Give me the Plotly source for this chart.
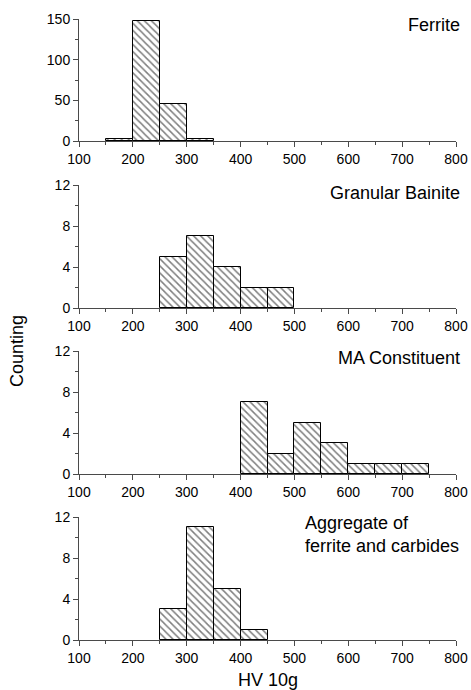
import plotly.graph_objects as go

BIN_WIDTH = 50

ferrite_bins = [150, 200, 250, 300]
ferrite_counts = [3, 148, 46, 2]

bainite_bins = [250, 300, 350, 400, 450]
bainite_counts = [5, 7, 4, 2, 2]

ma_bins = [400, 450, 500, 550, 600, 650, 700]
ma_counts = [7, 2, 5, 3, 1, 1, 1]

aggregate_bins = [250, 300, 350, 400]
aggregate_counts = [3, 11, 5, 1]

x_ticks = [100, 200, 300, 400, 500, 600, 700, 800]
panel_labels = ["Ferrite", "Granular Bainite", "MA Constituent",
                "Aggregate of<br>ferrite and carbides"]
x_title = "HV 10g"
y_title = "Counting"

FONT = "Liberation Sans, Arial, sans-serif"
W, H = 471, 690
ML, MR, MT, MB = 79, 15, 19, 50
plot_h = H - MT - MB
plot_w = W - ML - MR


def py(px):
    return (H - MB - px) / plot_h


def pxx(px):
    return (px - ML) / plot_w


domains = [(py(141), py(19)), (py(308), py(185)), (py(474), py(351)), (py(640), py(517))]
series = [(ferrite_bins, ferrite_counts), (bainite_bins, bainite_counts),
          (ma_bins, ma_counts), (aggregate_bins, aggregate_counts)]
y_ranges = [[0, 150], [0, 12], [0, 12], [0, 12]]
y_dticks = [50, 4, 4, 4]

fig = go.Figure()
axis_color = "#4a4a4a"
for i, ((bins, counts), dom, yr, dt) in enumerate(zip(series, domains, y_ranges, y_dticks)):
    n = "" if i == 0 else str(i + 1)
    fig.add_trace(go.Bar(
        x=bins, y=counts, width=BIN_WIDTH, offset=0,
        xaxis="x" + n, yaxis="y" + n,
        marker=dict(color="white",
                    line=dict(color="black", width=1),
                    pattern=dict(shape="\\", fgcolor="#000000", bgcolor="white",
                                 size=5, solidity=0.3, fillmode="overlay")),
        showlegend=False,
    ))
    fig.layout["xaxis" + n] = dict(
        domain=[0, 1], anchor="y" + n, range=[100, 800],
        tickvals=x_ticks, ticks="outside", ticklen=5, tickwidth=1,
        tickcolor=axis_color, showline=True, linecolor=axis_color, linewidth=1,
        showgrid=False, zeroline=False,
        minor=dict(dtick=50, tick0=100, ticks="outside", ticklen=3,
                   tickcolor=axis_color, showgrid=False),
        tickfont=dict(size=14, color="black", family=FONT),
    )
    fig.layout["yaxis" + n] = dict(
        domain=list(dom), anchor="x" + n, range=yr,
        dtick=dt, tick0=0, ticks="outside", ticklen=5, tickwidth=1,
        tickcolor=axis_color, showline=True, linecolor=axis_color, linewidth=1,
        showgrid=False, zeroline=False,
        minor=dict(dtick=dt / 2, tick0=0, ticks="outside", ticklen=3,
                   tickcolor=axis_color, showgrid=False),
        tickfont=dict(size=14, color="black", family=FONT),
    )

annots = [
    dict(text=panel_labels[0], x=pxx(462), y=py(25), xanchor="right", yanchor="middle"),
    dict(text=panel_labels[1], x=pxx(462), y=py(193), xanchor="right", yanchor="middle"),
    dict(text=panel_labels[2], x=pxx(462), y=py(358), xanchor="right", yanchor="middle"),
    dict(text=panel_labels[3], x=pxx(303), y=py(534), xanchor="left", yanchor="middle", align="left"),
    dict(text=y_title, x=pxx(17), y=py(351), xanchor="center", yanchor="middle", textangle=-90),
    dict(text=x_title, x=pxx(268), y=py(680), xanchor="center", yanchor="middle"),
]
for a in annots:
    a.update(xref="paper", yref="paper", showarrow=False,
             font=dict(size=18, color="black", family=FONT))
fig.update_layout(annotations=annots)

fig.update_layout(
    width=W, height=H,
    margin=dict(l=ML, r=MR, t=MT, b=MB, autoexpand=False),
    plot_bgcolor="white", paper_bgcolor="white",
    bargap=0,
    font=dict(family=FONT, color="black"),
)

fig.write_html("out.html",
               config={"displayModeBar": False},
               post_script="document.body.style.margin='0';document.body.style.overflow='hidden';")
